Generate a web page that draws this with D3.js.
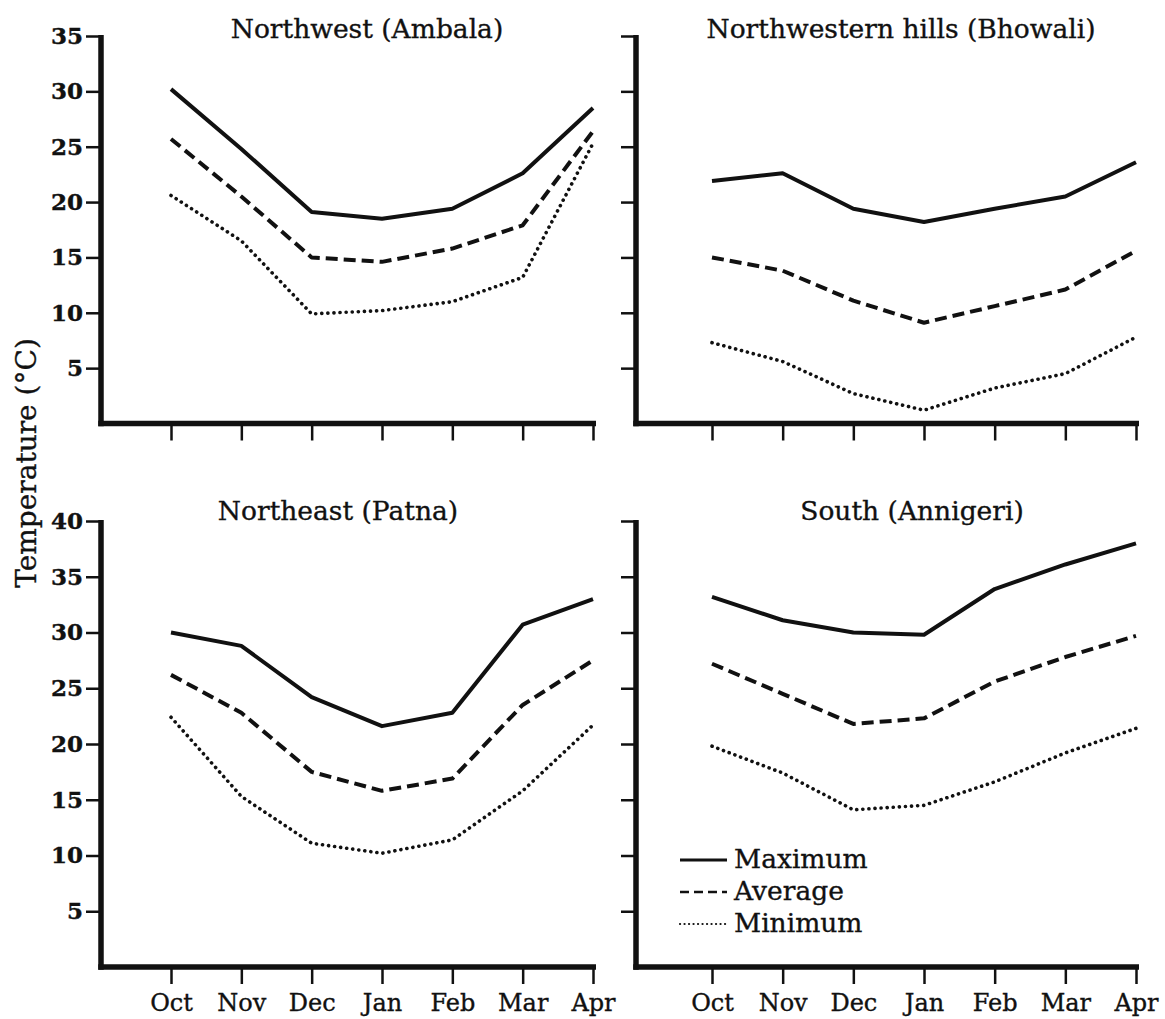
<!DOCTYPE html>
<html>
<head>
<meta charset="utf-8">
<script src="https://cdn.jsdelivr.net/npm/d3@7"></script>
<style>
  html, body { margin: 0; padding: 0; background: #fff; }
  svg { display: block; }
  text { font-family: "DejaVu Serif", "Liberation Serif", serif; fill: #111; }
  .reg { stroke: #111; stroke-width: 0.35px; }
</style>
</head>
<body>
<svg id="chart" width="1165" height="1019"></svg>
<script>
// ---- data ----
const months = ["Oct", "Nov", "Dec", "Jan", "Feb", "Mar", "Apr"];
const seriesNames = ["Maximum", "Average", "Minimum"];

const ambalaMax = [30.2, 24.8, 19.1, 18.5, 19.4, 22.6, 28.5];
const ambalaAvg = [25.7, 20.5, 15.0, 14.6, 15.8, 17.9, 26.4];
const ambalaMin = [20.6, 16.5, 9.9, 10.2, 11.0, 13.2, 25.3];

const bhowaliMax = [21.9, 22.6, 19.4, 18.2, 19.4, 20.5, 23.6];
const bhowaliAvg = [15.0, 13.8, 11.1, 9.1, 10.6, 12.1, 15.6];
const bhowaliMin = [7.3, 5.6, 2.7, 1.2, 3.2, 4.5, 7.8];

const patnaMax = [30.0, 28.8, 24.2, 21.6, 22.8, 30.7, 33.0];
const patnaAvg = [26.2, 22.8, 17.5, 15.8, 16.9, 23.5, 27.5];
const patnaMin = [22.4, 15.3, 11.1, 10.2, 11.4, 15.8, 21.7];

const annigeriMax = [33.2, 31.1, 30.0, 29.8, 33.9, 36.1, 38.0];
const annigeriAvg = [27.2, 24.5, 21.8, 22.3, 25.6, 27.8, 29.7];
const annigeriMin = [19.8, 17.4, 14.1, 14.5, 16.6, 19.2, 21.4];

const topTicks = [5, 10, 15, 20, 25, 30, 35];
const bottomTicks = [5, 10, 15, 20, 25, 30, 35, 40];
const topDomain = [0, 35];
const bottomDomain = [0, 40];

const titles = ["Northwest (Ambala)", "Northwestern hills (Bhowali)", "Northeast (Patna)", "South (Annigeri)"];
const yLabel = "Temperature (\u00B0C)";

// ---- layout ----
const svg = d3.select("#chart");
const panels = [
  { title: titles[0], series: [ambalaMax, ambalaAvg, ambalaMin], domain: topDomain, ticks: topTicks,
    axisX: 101, xr: [171, 593], xEnd: 596, yr: [423.5, 36], titleX: 367, titleY: 38, yLabels: true, xLabels: false },
  { title: titles[1], series: [bhowaliMax, bhowaliAvg, bhowaliMin], domain: topDomain, ticks: topTicks,
    axisX: 636, xr: [712, 1136], xEnd: 1139, yr: [423.5, 36], titleX: 901, titleY: 38, yLabels: false, xLabels: false },
  { title: titles[2], series: [patnaMax, patnaAvg, patnaMin], domain: bottomDomain, ticks: bottomTicks,
    axisX: 101, xr: [171, 593], xEnd: 596, yr: [967, 521], titleX: 338, titleY: 520, yLabels: true, xLabels: true },
  { title: titles[3], series: [annigeriMax, annigeriAvg, annigeriMin], domain: bottomDomain, ticks: bottomTicks,
    axisX: 636, xr: [712, 1136], xEnd: 1139, yr: [967, 521], titleX: 912, titleY: 520, yLabels: false, xLabels: true }
];

const styles = [
  { width: 4, dash: null, cap: "butt" },
  { width: 4, dash: "12,6", cap: "butt" },
  { width: 3.6, dash: "0.1,6", cap: "round" }
];

panels.forEach(p => {
  const g = svg.append("g");
  const x = d3.scalePoint().domain(months).range(p.xr);
  const y = d3.scaleLinear().domain(p.domain).range(p.yr);

  // y axis ticks
  const ya = d3.axisLeft(y).tickValues(p.ticks).tickSize(15).tickSizeOuter(0).tickPadding(3)
    .tickFormat(p.yLabels ? d3.format("d") : () => "");
  const yg = g.append("g").attr("transform", `translate(${p.axisX},0)`).call(ya);
  yg.select(".domain").remove();
  yg.selectAll(".tick line").attr("stroke", "#111").attr("stroke-width", 2.5);
  yg.selectAll(".tick text").style("font-size", "23px").style("font-weight", "bold")
    .style("font-family", '"DejaVu Serif", serif').attr("fill", "#111")
    .attr("stroke", "#111").attr("stroke-width", 0.4);

  // x axis ticks
  const y0 = y(p.domain[0]);
  const xa = d3.axisBottom(x).tickSize(17).tickSizeOuter(0).tickPadding(10)
    .tickFormat(p.xLabels ? (d => d) : () => "");
  const xg = g.append("g").attr("transform", `translate(0,${y0})`).call(xa);
  xg.select(".domain").remove();
  xg.selectAll(".tick line").attr("stroke", "#111").attr("stroke-width", 2.5);
  xg.selectAll(".tick text").style("font-size", "24px")
    .style("font-family", '"DejaVu Serif", serif').attr("fill", "#111")
    .attr("stroke", "#111").attr("stroke-width", 0.35);

  // main axis lines
  g.append("line").attr("x1", p.axisX).attr("x2", p.axisX)
    .attr("y1", y(p.domain[1]) - 1).attr("y2", y0 + 2.75)
    .attr("stroke", "#111").attr("stroke-width", 5.5);
  g.append("line").attr("x1", p.axisX - 2.75).attr("x2", p.xEnd)
    .attr("y1", y0).attr("y2", y0)
    .attr("stroke", "#111").attr("stroke-width", 5.5);

  // lines
  const line = d3.line().x((d, i) => x(months[i])).y(d => y(d));
  p.series.forEach((s, i) => {
    const st = styles[i];
    g.append("path").datum(s).attr("d", line)
      .attr("fill", "none").attr("stroke", "#111")
      .attr("stroke-width", st.width)
      .attr("stroke-linejoin", "round")
      .attr("stroke-linecap", st.cap)
      .attr("stroke-dasharray", st.dash);
  });

  // title
  g.append("text").attr("class", "reg").attr("x", p.titleX).attr("y", p.titleY)
    .attr("text-anchor", "middle").style("font-size", "26.5px").text(p.title);
});

// y label
svg.append("text").attr("class", "reg").attr("transform", "translate(36,463) rotate(-90)")
  .attr("text-anchor", "middle").style("font-size", "28px").text(yLabel);

// legend
const legendStyles = [
  { width: 3, dash: null, cap: "butt" },
  { width: 2.6, dash: "9,5", cap: "butt" },
  { width: 2.2, dash: "0.1,4.4", cap: "round" }
];
const legendY = d3.scalePoint().domain(seriesNames).range([868, 932]);
const lg = svg.append("g");
seriesNames.forEach((n, i) => {
  const yy = legendY(n);
  lg.append("line").attr("x1", 680).attr("x2", 727).attr("y1", yy - 8).attr("y2", yy - 8)
    .attr("stroke", "#111").attr("stroke-width", legendStyles[i].width)
    .attr("stroke-linecap", legendStyles[i].cap)
    .attr("stroke-dasharray", legendStyles[i].dash);
  lg.append("text").attr("class", "reg").attr("x", 734).attr("y", yy).style("font-size", "26.5px").text(n);
});
</script>
</body>
</html>
